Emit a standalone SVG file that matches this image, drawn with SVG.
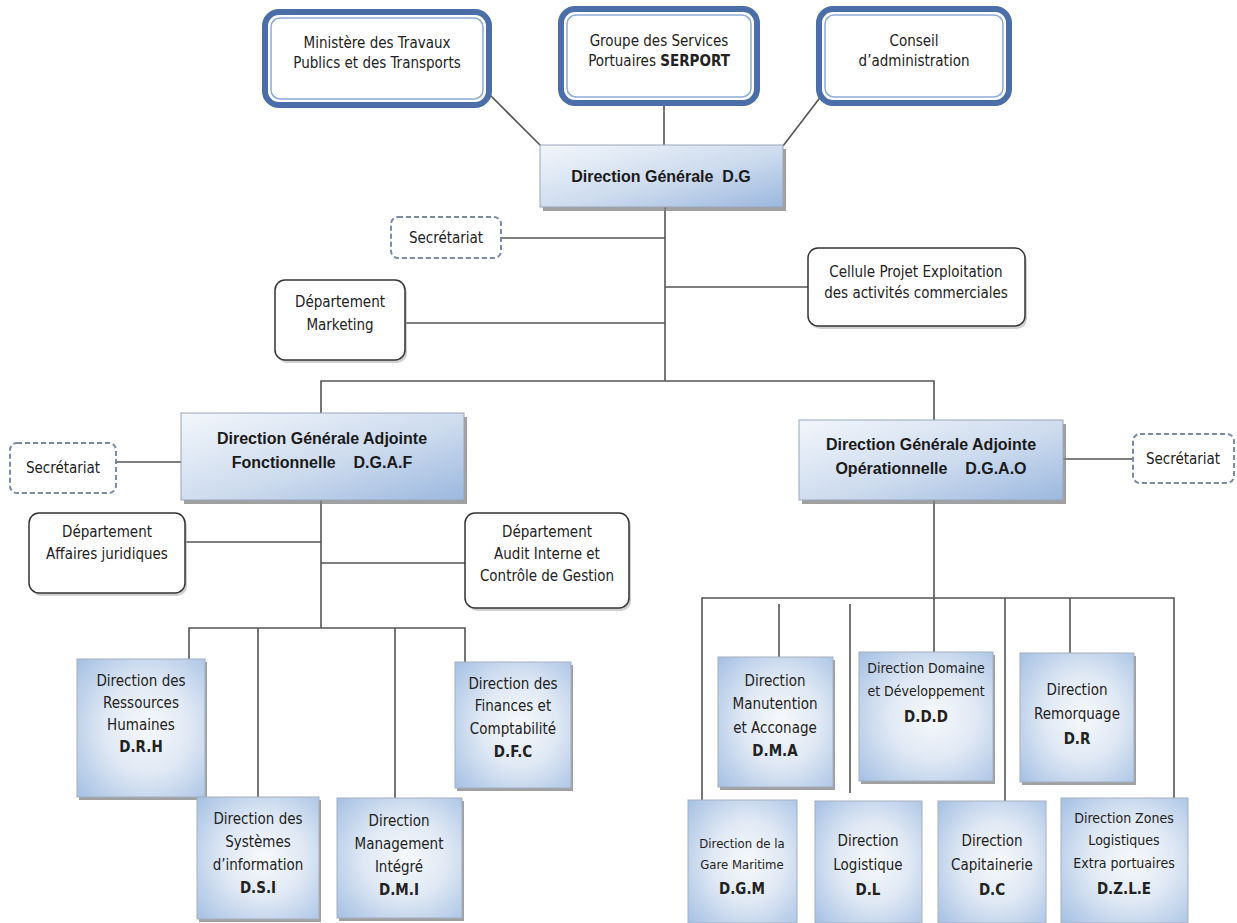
<svg xmlns="http://www.w3.org/2000/svg" width="1237" height="923" viewBox="0 0 1237 923">
<defs>
<style>
.bg{fill:#ffffff}
.conn line,.conn polyline{stroke:#555;stroke-width:1.6;fill:none}
.outer{fill:#fff;stroke:#4b6ea9;stroke-width:6}
.inner{fill:none;stroke:#8eaad6;stroke-width:1.5}
.round{fill:#fff;stroke:#333;stroke-width:1.5}
.dash{fill:#fff;stroke:#7d8aa3;stroke-width:2;stroke-dasharray:5 3}
.title{fill:url(#gTitle);stroke:#9aa6b8;stroke-width:1}
.dir{fill:url(#gDir);stroke:#a5afbf;stroke-width:1}
.shadow{fill:#808080;opacity:0.75}
.rshadow{fill:#b0b0b0;opacity:0.6}
.t{font-family:'Liberation Sans Narrow','DejaVu Sans Condensed','Liberation Sans',sans-serif;font-size:15px;fill:#222;text-anchor:middle}
.s{font-size:14px}
.xs{font-size:13px}
.b{font-weight:bold}
.h{font-family:'Liberation Sans',Arial,sans-serif;font-weight:bold;font-size:16px;fill:#1a1a1a;text-anchor:middle;white-space:pre}
</style>
<linearGradient id="gTitle" x1="0" y1="0" x2="1" y2="1">
<stop offset="0" stop-color="#f2f6fb"/>
<stop offset="0.55" stop-color="#cddbee"/>
<stop offset="1" stop-color="#9bb8df"/>
</linearGradient>
<radialGradient id="gDir" cx="0.55" cy="0.5" r="0.75">
<stop offset="0" stop-color="#f7f9fc"/>
<stop offset="0.45" stop-color="#dfe8f4"/>
<stop offset="1" stop-color="#a3bfe3"/>
</radialGradient>
</defs>
<rect class="bg" x="0" y="0" width="1237" height="923"/>

<g id="connectors" class="conn">
<line x1="490" y1="95" x2="541" y2="146"/>
<line x1="664" y1="103" x2="664" y2="145"/>
<line x1="822" y1="95" x2="783" y2="146"/>
<line x1="665" y1="207" x2="665" y2="381"/>
<line x1="501" y1="238" x2="665" y2="238"/>
<line x1="665" y1="287" x2="808" y2="287"/>
<line x1="405" y1="323" x2="665" y2="323"/>
<polyline points="321,413 321,381 934,381 934,420"/>
<line x1="116" y1="462" x2="181" y2="462"/>
<line x1="1063" y1="459" x2="1133" y2="459"/>
<line x1="321" y1="500" x2="321" y2="628"/>
<line x1="185" y1="542" x2="321" y2="542"/>
<line x1="321" y1="563" x2="465" y2="563"/>
<polyline points="189,659 189,628 465,628 465,662"/>
<line x1="258" y1="628" x2="258" y2="797"/>
<line x1="395" y1="628" x2="395" y2="798"/>
<line x1="934" y1="500" x2="934" y2="652"/>
<polyline points="702,800 702,598 1174,598 1174,798"/>
<line x1="779" y1="604" x2="779" y2="657"/>
<line x1="850" y1="604" x2="850" y2="793"/>
<line x1="1005" y1="598" x2="1005" y2="801"/>
<line x1="1070" y1="598" x2="1070" y2="653"/>
</g>

<g id="ministere">
<rect class="outer" x="265" y="12" width="224" height="93" rx="14"/>
<rect class="inner" x="271" y="18" width="212" height="81" rx="9"/>
<text class="t" x="377" y="48">Ministère des Travaux</text>
<text class="t" x="377" y="68">Publics et des Transports</text>
</g>
<g id="serport">
<rect class="outer" x="561" y="9" width="196" height="94" rx="14"/>
<rect class="inner" x="567" y="15" width="184" height="82" rx="9"/>
<text class="t" x="659" y="46">Groupe des Services</text>
<text class="t" x="659" y="66">Portuaires <tspan class="b">SERPORT</tspan></text>
</g>
<g id="conseil">
<rect class="outer" x="819" y="9" width="190" height="94" rx="14"/>
<rect class="inner" x="825" y="15" width="178" height="82" rx="9"/>
<text class="t" x="914" y="46">Conseil</text>
<text class="t" x="914" y="66">d’administration</text>
</g>

<g id="dg">
<rect class="shadow" x="543" y="149" width="243" height="62"/>
<rect class="title" x="540" y="145" width="243" height="62"/>
<text class="h" x="661" y="182">Direction Générale  D.G</text>
</g>

<g id="secretariat-dg">
<rect class="dash" x="391" y="217" width="110" height="41" rx="7"/>
<text class="t" x="446" y="243">Secrétariat</text>
</g>
<g id="cellule">
<rect class="rshadow" x="810" y="251" width="217" height="78" rx="10"/>
<rect class="round" x="808" y="248" width="217" height="78" rx="10"/>
<text class="t" x="916" y="277">Cellule Projet Exploitation</text>
<text class="t" x="916" y="298">des activités commerciales</text>
</g>
<g id="marketing">
<rect class="rshadow" x="277" y="283" width="130" height="80" rx="10"/>
<rect class="round" x="275" y="280" width="130" height="80" rx="10"/>
<text class="t" x="340" y="307">Département</text>
<text class="t" x="340" y="330">Marketing</text>
</g>

<g id="dgaf">
<rect class="shadow" x="184" y="417" width="283" height="87"/>
<rect class="title" x="181" y="413" width="283" height="87"/>
<text class="h" x="322" y="444">Direction Générale Adjointe</text>
<text class="h" x="322" y="468">Fonctionnelle    D.G.A.F</text>
</g>
<g id="dgao">
<rect class="shadow" x="802" y="424" width="264" height="80"/>
<rect class="title" x="799" y="420" width="264" height="80"/>
<text class="h" x="931" y="450">Direction Générale Adjointe</text>
<text class="h" x="931" y="474">Opérationnelle    D.G.A.O</text>
</g>
<g id="secretariat-dgaf">
<rect class="dash" x="10" y="443" width="106" height="50" rx="7"/>
<text class="t" x="63" y="473">Secrétariat</text>
</g>
<g id="secretariat-dgao">
<rect class="dash" x="1133" y="434" width="101" height="49" rx="7"/>
<text class="t" x="1183" y="464">Secrétariat</text>
</g>

<g id="juridique">
<rect class="rshadow" x="31" y="516" width="156" height="80" rx="10"/>
<rect class="round" x="29" y="513" width="156" height="80" rx="10"/>
<text class="t" x="107" y="537">Département</text>
<text class="t" x="107" y="559">Affaires juridiques</text>
</g>
<g id="audit">
<rect class="rshadow" x="467" y="516" width="164" height="95" rx="10"/>
<rect class="round" x="465" y="513" width="164" height="95" rx="10"/>
<text class="t" x="547" y="537">Département</text>
<text class="t" x="547" y="559">Audit Interne et</text>
<text class="t" x="547" y="581">Contrôle de Gestion</text>
</g>

<g id="drh">
<rect class="shadow" x="79" y="662" width="128" height="138"/>
<rect class="dir" x="77" y="659" width="128" height="138"/>
<text class="t" x="141" y="686">Direction des</text>
<text class="t" x="141" y="708">Ressources</text>
<text class="t" x="141" y="730">Humaines</text>
<text class="t b" x="141" y="752">D.R.H</text>
</g>
<g id="dfc">
<rect class="shadow" x="457" y="665" width="116" height="126"/>
<rect class="dir" x="455" y="662" width="116" height="126"/>
<text class="t" x="513" y="689">Direction des</text>
<text class="t" x="513" y="711">Finances et</text>
<text class="t" x="513" y="734">Comptabilité</text>
<text class="t b" x="513" y="757">D.F.C</text>
</g>
<g id="dsi">
<rect class="shadow" x="199" y="800" width="122" height="122"/>
<rect class="dir" x="197" y="797" width="122" height="122"/>
<text class="t" x="258" y="824">Direction des</text>
<text class="t" x="258" y="847">Systèmes</text>
<text class="t" x="258" y="870">d’information</text>
<text class="t b" x="258" y="893">D.S.I</text>
</g>
<g id="dmi">
<rect class="shadow" x="339" y="801" width="125" height="120"/>
<rect class="dir" x="337" y="798" width="125" height="120"/>
<text class="t" x="399" y="826">Direction</text>
<text class="t" x="399" y="849">Management</text>
<text class="t" x="399" y="872">Intégré</text>
<text class="t b" x="399" y="895">D.M.I</text>
</g>

<g id="dma">
<rect class="shadow" x="720" y="660" width="115" height="130"/>
<rect class="dir" x="718" y="657" width="115" height="130"/>
<text class="t" x="775" y="686">Direction</text>
<text class="t" x="775" y="709">Manutention</text>
<text class="t" x="775" y="733">et Acconage</text>
<text class="t b" x="775" y="756">D.M.A</text>
</g>
<g id="ddd">
<rect class="shadow" x="861" y="655" width="134" height="129"/>
<rect class="dir" x="859" y="652" width="134" height="129"/>
<text class="t s" x="926" y="673">Direction Domaine</text>
<text class="t s" x="926" y="696">et Développement</text>
<text class="t b" x="926" y="722">D.D.D</text>
</g>
<g id="dr">
<rect class="shadow" x="1022" y="656" width="114" height="129"/>
<rect class="dir" x="1020" y="653" width="114" height="129"/>
<text class="t" x="1077" y="695">Direction</text>
<text class="t" x="1077" y="719">Remorquage</text>
<text class="t b" x="1077" y="744">D.R</text>
</g>
<g id="dgm">
<rect class="dir" x="688" y="800" width="109" height="123"/>
<text class="t xs" x="742" y="848">Direction de la</text>
<text class="t xs" x="742" y="869">Gare Maritime</text>
<text class="t b" x="742" y="894">D.G.M</text>
</g>
<g id="dl">
<rect class="dir" x="815" y="801" width="107" height="122"/>
<text class="t" x="868" y="846">Direction</text>
<text class="t" x="868" y="870">Logistique</text>
<text class="t b" x="868" y="895">D.L</text>
</g>
<g id="dc">
<rect class="dir" x="938" y="801" width="108" height="122"/>
<text class="t" x="992" y="846">Direction</text>
<text class="t" x="992" y="870">Capitainerie</text>
<text class="t b" x="992" y="895">D.C</text>
</g>
<g id="dzle">
<rect class="dir" x="1061" y="798" width="127" height="125"/>
<text class="t s" x="1124" y="823">Direction Zones</text>
<text class="t s" x="1124" y="845">Logistiques</text>
<text class="t s" x="1124" y="868">Extra portuaires</text>
<text class="t b" x="1124" y="894">D.Z.L.E</text>
</g>
</svg>
